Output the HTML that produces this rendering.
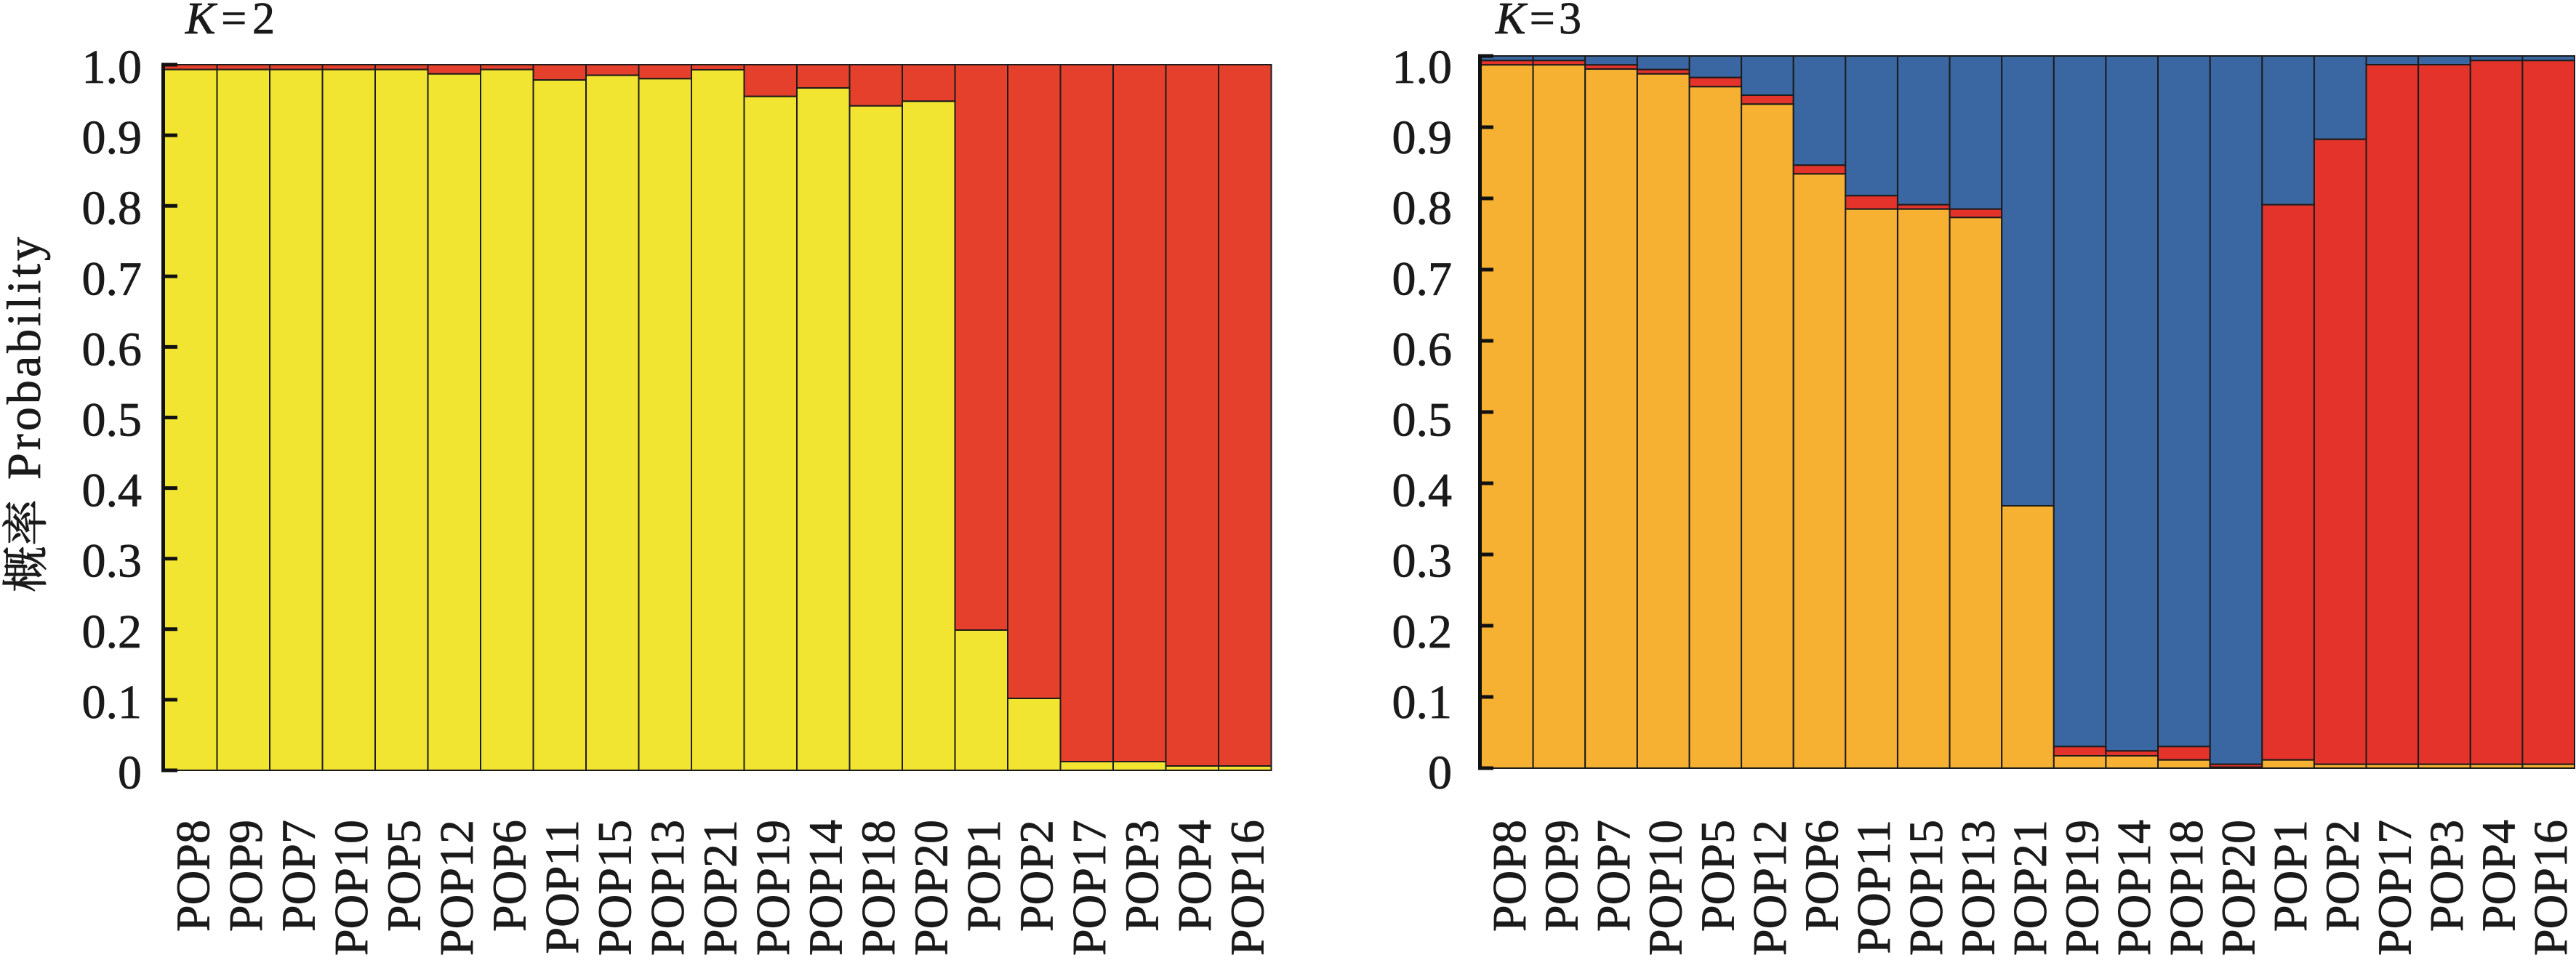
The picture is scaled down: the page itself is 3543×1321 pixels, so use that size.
<!DOCTYPE html>
<html>
<head>
<meta charset="utf-8">
<style>
html,body{margin:0;padding:0;background:#fff;}
svg{display:block;}
text{font-family:"Liberation Serif","Times New Roman",Times,serif;fill:#1a1a1a;stroke:#1a1a1a;stroke-width:0.8px;}
.bar rect{stroke:#1c1c1c;stroke-width:2;}
.r{fill:#e5402c}.y{fill:#f2e531}.o{fill:#f6b132}.b{fill:#3a67a1}.k{fill:#e3332b}
.tl{font-size:66px;text-anchor:end;}
.xl{font-size:66px;text-anchor:end;}
</style>
</head>
<body>
<svg width="3543" height="1321" viewBox="0 0 3543 1321" xmlns="http://www.w3.org/2000/svg" font-family="Liberation Serif, Times New Roman, serif">
<rect width="3543" height="1321" fill="#fff"/>

<!-- Titles -->
<text x="255" y="46" font-size="62" font-family="Liberation Serif, serif" textLength="123" lengthAdjust="spacing"><tspan font-style="italic">K</tspan>=2</text>
<text x="2057" y="46" font-size="62" font-family="Liberation Serif, serif" textLength="118" lengthAdjust="spacing"><tspan font-style="italic">K</tspan>=3</text>

<!-- Y label -->
<text transform="translate(55,660) rotate(-90)" font-size="66" font-family="Liberation Serif, serif" textLength="334" lengthAdjust="spacing">Probability</text>
<text transform="translate(58,815) rotate(-90)" font-size="64" style="font-family:'Noto Serif CJK SC','Noto Sans CJK SC',serif">概率</text>

<!-- LEFT PLOT BARS -->
<g class="bar">
<rect class="r" x="226" y="89" width="72.5" height="6.7"/><rect class="y" x="226" y="95.7" width="72.5" height="964.3"/>
<rect class="r" x="298.5" y="89" width="72.5" height="6.7"/><rect class="y" x="298.5" y="95.7" width="72.5" height="964.3"/>
<rect class="r" x="371" y="89" width="72.5" height="6.7"/><rect class="y" x="371" y="95.7" width="72.5" height="964.3"/>
<rect class="r" x="443.5" y="89" width="72.5" height="6.7"/><rect class="y" x="443.5" y="95.7" width="72.5" height="964.3"/>
<rect class="r" x="516" y="89" width="72.5" height="6.7"/><rect class="y" x="516" y="95.7" width="72.5" height="964.3"/>
<rect class="r" x="588.5" y="89" width="72.5" height="12.7"/><rect class="y" x="588.5" y="101.7" width="72.5" height="958.3"/>
<rect class="r" x="661" y="89" width="72.5" height="6.7"/><rect class="y" x="661" y="95.7" width="72.5" height="964.3"/>
<rect class="r" x="733.5" y="89" width="72.5" height="21"/><rect class="y" x="733.5" y="110" width="72.5" height="950"/>
<rect class="r" x="806" y="89" width="72.5" height="14.6"/><rect class="y" x="806" y="103.6" width="72.5" height="956.4"/>
<rect class="r" x="878.5" y="89" width="72.5" height="19.3"/><rect class="y" x="878.5" y="108.3" width="72.5" height="951.7"/>
<rect class="r" x="951" y="89" width="72.5" height="7"/><rect class="y" x="951" y="96" width="72.5" height="964"/>
<rect class="r" x="1023.5" y="89" width="72.5" height="43.7"/><rect class="y" x="1023.5" y="132.7" width="72.5" height="927.3"/>
<rect class="r" x="1096" y="89" width="72.5" height="32"/><rect class="y" x="1096" y="121" width="72.5" height="939"/>
<rect class="r" x="1168.5" y="89" width="72.5" height="56.7"/><rect class="y" x="1168.5" y="145.7" width="72.5" height="914.3"/>
<rect class="r" x="1241" y="89" width="72.5" height="50.3"/><rect class="y" x="1241" y="139.3" width="72.5" height="920.7"/>
<rect class="r" x="1313.5" y="89" width="72.5" height="778"/><rect class="y" x="1313.5" y="867" width="72.5" height="193"/>
<rect class="r" x="1386" y="89" width="72.5" height="872"/><rect class="y" x="1386" y="961" width="72.5" height="99"/>
<rect class="r" x="1458.5" y="89" width="72.5" height="959"/><rect class="y" x="1458.5" y="1048" width="72.5" height="12"/>
<rect class="r" x="1531" y="89" width="72.5" height="959"/><rect class="y" x="1531" y="1048" width="72.5" height="12"/>
<rect class="r" x="1603.5" y="89" width="72.5" height="965"/><rect class="y" x="1603.5" y="1054" width="72.5" height="6"/>
<rect class="r" x="1676" y="89" width="72.5" height="965"/><rect class="y" x="1676" y="1054" width="72.5" height="6"/>
</g>

<!-- LEFT AXIS -->
<line x1="224.5" y1="86.5" x2="224.5" y2="1062.5" stroke="#111" stroke-width="5"/>
<g stroke="#111" stroke-width="5">
<line x1="224" y1="1060" x2="244" y2="1060"/>
<line x1="224" y1="962.9" x2="244" y2="962.9"/>
<line x1="224" y1="865.8" x2="244" y2="865.8"/>
<line x1="224" y1="768.7" x2="244" y2="768.7"/>
<line x1="224" y1="671.6" x2="244" y2="671.6"/>
<line x1="224" y1="574.5" x2="244" y2="574.5"/>
<line x1="224" y1="477.4" x2="244" y2="477.4"/>
<line x1="224" y1="380.3" x2="244" y2="380.3"/>
<line x1="224" y1="283.2" x2="244" y2="283.2"/>
<line x1="224" y1="186.1" x2="244" y2="186.1"/>
<line x1="224" y1="89" x2="244" y2="89"/>
</g>
<g class="tl" font-family="Liberation Serif, serif">
<text x="195" y="1085">0</text>
<text x="195" y="987.9">0.1</text>
<text x="195" y="890.8">0.2</text>
<text x="195" y="793.7">0.3</text>
<text x="195" y="696.6">0.4</text>
<text x="195" y="599.5">0.5</text>
<text x="195" y="502.4">0.6</text>
<text x="195" y="405.3">0.7</text>
<text x="195" y="308.2">0.8</text>
<text x="195" y="211.1">0.9</text>
<text x="195" y="114">1.0</text>
</g>

<!-- LEFT X LABELS -->
<g class="xl" font-family="Liberation Serif, serif">
<text transform="translate(287.3,1128) rotate(-90)">POP8</text>
<text transform="translate(359.8,1128) rotate(-90)">POP9</text>
<text transform="translate(432.3,1128) rotate(-90)">POP7</text>
<text transform="translate(504.8,1128) rotate(-90)">POP10</text>
<text transform="translate(577.3,1128) rotate(-90)">POP5</text>
<text transform="translate(649.8,1128) rotate(-90)">POP12</text>
<text transform="translate(722.3,1128) rotate(-90)">POP6</text>
<text transform="translate(794.8,1128) rotate(-90)">POP11</text>
<text transform="translate(867.3,1128) rotate(-90)">POP15</text>
<text transform="translate(939.8,1128) rotate(-90)">POP13</text>
<text transform="translate(1012.3,1128) rotate(-90)">POP21</text>
<text transform="translate(1084.8,1128) rotate(-90)">POP19</text>
<text transform="translate(1157.3,1128) rotate(-90)">POP14</text>
<text transform="translate(1229.8,1128) rotate(-90)">POP18</text>
<text transform="translate(1302.3,1128) rotate(-90)">POP20</text>
<text transform="translate(1374.8,1128) rotate(-90)">POP1</text>
<text transform="translate(1447.3,1128) rotate(-90)">POP2</text>
<text transform="translate(1519.8,1128) rotate(-90)">POP17</text>
<text transform="translate(1592.3,1128) rotate(-90)">POP3</text>
<text transform="translate(1664.8,1128) rotate(-90)">POP4</text>
<text transform="translate(1737.3,1128) rotate(-90)">POP16</text>
</g>

<!-- RIGHT PLOT BARS -->
<g class="bar">
<rect class="b" x="2037" y="77" width="71.6" height="6.3"/><rect class="k" x="2037" y="83.3" width="71.6" height="6"/><rect class="o" x="2037" y="89.3" width="71.6" height="967.7"/>
<rect class="b" x="2108.6" y="77" width="71.6" height="6.3"/><rect class="k" x="2108.6" y="83.3" width="71.6" height="6"/><rect class="o" x="2108.6" y="89.3" width="71.6" height="967.7"/>
<rect class="b" x="2180.2" y="77" width="71.6" height="12.3"/><rect class="k" x="2180.2" y="89.3" width="71.6" height="5.7"/><rect class="o" x="2180.2" y="95" width="71.6" height="962"/>
<rect class="b" x="2251.9" y="77" width="71.6" height="18.7"/><rect class="k" x="2251.9" y="95.7" width="71.6" height="6"/><rect class="o" x="2251.9" y="101.7" width="71.6" height="955.3"/>
<rect class="b" x="2323.5" y="77" width="71.6" height="29.7"/><rect class="k" x="2323.5" y="106.7" width="71.6" height="12.6"/><rect class="o" x="2323.5" y="119.3" width="71.6" height="937.7"/>
<rect class="b" x="2395.1" y="77" width="71.6" height="54"/><rect class="k" x="2395.1" y="131" width="71.6" height="12.3"/><rect class="o" x="2395.1" y="143.3" width="71.6" height="913.7"/>
<rect class="b" x="2466.7" y="77" width="71.6" height="150.3"/><rect class="k" x="2466.7" y="227.3" width="71.6" height="12"/><rect class="o" x="2466.7" y="239.3" width="71.6" height="817.7"/>
<rect class="b" x="2538.3" y="77" width="71.6" height="192.3"/><rect class="k" x="2538.3" y="269.3" width="71.6" height="18.4"/><rect class="o" x="2538.3" y="287.7" width="71.6" height="769.3"/>
<rect class="b" x="2610" y="77" width="71.6" height="204.7"/><rect class="k" x="2610" y="281.7" width="71.6" height="6"/><rect class="o" x="2610" y="287.7" width="71.6" height="769.3"/>
<rect class="b" x="2681.6" y="77" width="71.6" height="210.7"/><rect class="k" x="2681.6" y="287.7" width="71.6" height="11.6"/><rect class="o" x="2681.6" y="299.3" width="71.6" height="757.7"/>
<rect class="b" x="2753.2" y="77" width="71.6" height="619"/><rect class="o" x="2753.2" y="696" width="71.6" height="361"/>
<rect class="b" x="2824.8" y="77" width="71.6" height="950.3"/><rect class="k" x="2824.8" y="1027.3" width="71.6" height="12.7"/><rect class="o" x="2824.8" y="1040" width="71.6" height="17"/>
<rect class="b" x="2896.4" y="77" width="71.6" height="956.3"/><rect class="k" x="2896.4" y="1033.3" width="71.6" height="6.7"/><rect class="o" x="2896.4" y="1040" width="71.6" height="17"/>
<rect class="b" x="2968" y="77" width="71.6" height="950.3"/><rect class="k" x="2968" y="1027.3" width="71.6" height="18.4"/><rect class="o" x="2968" y="1045.7" width="71.6" height="11.3"/>
<rect class="b" x="3039.7" y="77" width="71.6" height="974.7"/><rect class="k" x="3039.7" y="1051.7" width="71.6" height="4"/><rect class="o" x="3039.7" y="1055.7" width="71.6" height="1.3"/>
<rect class="b" x="3111.3" y="77" width="71.6" height="204.7"/><rect class="k" x="3111.3" y="281.7" width="71.6" height="764"/><rect class="o" x="3111.3" y="1045.7" width="71.6" height="11.3"/>
<rect class="b" x="3182.9" y="77" width="71.6" height="114.7"/><rect class="k" x="3182.9" y="191.7" width="71.6" height="860"/><rect class="o" x="3182.9" y="1051.7" width="71.6" height="5.3"/>
<rect class="b" x="3254.5" y="77" width="71.6" height="12"/><rect class="k" x="3254.5" y="89" width="71.6" height="962.7"/><rect class="o" x="3254.5" y="1051.7" width="71.6" height="5.3"/>
<rect class="b" x="3326.1" y="77" width="71.6" height="12"/><rect class="k" x="3326.1" y="89" width="71.6" height="962.7"/><rect class="o" x="3326.1" y="1051.7" width="71.6" height="5.3"/>
<rect class="b" x="3397.8" y="77" width="71.6" height="6.3"/><rect class="k" x="3397.8" y="83.3" width="71.6" height="968.4"/><rect class="o" x="3397.8" y="1051.7" width="71.6" height="5.3"/>
<rect class="b" x="3469.4" y="77" width="71.6" height="6.3"/><rect class="k" x="3469.4" y="83.3" width="71.6" height="968.4"/><rect class="o" x="3469.4" y="1051.7" width="71.6" height="5.3"/>
</g>

<!-- RIGHT AXIS -->
<line x1="2035.5" y1="74.5" x2="2035.5" y2="1059.5" stroke="#111" stroke-width="5"/>
<g stroke="#111" stroke-width="5">
<line x1="2035" y1="1057" x2="2054" y2="1057"/>
<line x1="2035" y1="959" x2="2054" y2="959"/>
<line x1="2035" y1="861" x2="2054" y2="861"/>
<line x1="2035" y1="763" x2="2054" y2="763"/>
<line x1="2035" y1="665" x2="2054" y2="665"/>
<line x1="2035" y1="567" x2="2054" y2="567"/>
<line x1="2035" y1="469" x2="2054" y2="469"/>
<line x1="2035" y1="371" x2="2054" y2="371"/>
<line x1="2035" y1="273" x2="2054" y2="273"/>
<line x1="2035" y1="175" x2="2054" y2="175"/>
<line x1="2035" y1="77" x2="2054" y2="77"/>
</g>
<g class="tl" font-family="Liberation Serif, serif">
<text x="1997" y="1085">0</text>
<text x="1997" y="987.9">0.1</text>
<text x="1997" y="890.8">0.2</text>
<text x="1997" y="793.7">0.3</text>
<text x="1997" y="696.6">0.4</text>
<text x="1997" y="599.5">0.5</text>
<text x="1997" y="502.4">0.6</text>
<text x="1997" y="405.3">0.7</text>
<text x="1997" y="308.2">0.8</text>
<text x="1997" y="211.1">0.9</text>
<text x="1997" y="114">1.0</text>
</g>

<!-- RIGHT X LABELS -->
<g class="xl" font-family="Liberation Serif, serif">
<text transform="translate(2097.8,1128) rotate(-90)">POP8</text>
<text transform="translate(2169.4,1128) rotate(-90)">POP9</text>
<text transform="translate(2241.0,1128) rotate(-90)">POP7</text>
<text transform="translate(2312.7,1128) rotate(-90)">POP10</text>
<text transform="translate(2384.3,1128) rotate(-90)">POP5</text>
<text transform="translate(2455.9,1128) rotate(-90)">POP12</text>
<text transform="translate(2527.5,1128) rotate(-90)">POP6</text>
<text transform="translate(2599.1,1128) rotate(-90)">POP11</text>
<text transform="translate(2670.8,1128) rotate(-90)">POP15</text>
<text transform="translate(2742.4,1128) rotate(-90)">POP13</text>
<text transform="translate(2814.0,1128) rotate(-90)">POP21</text>
<text transform="translate(2885.6,1128) rotate(-90)">POP19</text>
<text transform="translate(2957.2,1128) rotate(-90)">POP14</text>
<text transform="translate(3028.9,1128) rotate(-90)">POP18</text>
<text transform="translate(3100.5,1128) rotate(-90)">POP20</text>
<text transform="translate(3172.1,1128) rotate(-90)">POP1</text>
<text transform="translate(3243.7,1128) rotate(-90)">POP2</text>
<text transform="translate(3315.3,1128) rotate(-90)">POP17</text>
<text transform="translate(3386.9,1128) rotate(-90)">POP3</text>
<text transform="translate(3458.6,1128) rotate(-90)">POP4</text>
<text transform="translate(3530.2,1128) rotate(-90)">POP16</text>
</g>
</svg>
</body>
</html>
